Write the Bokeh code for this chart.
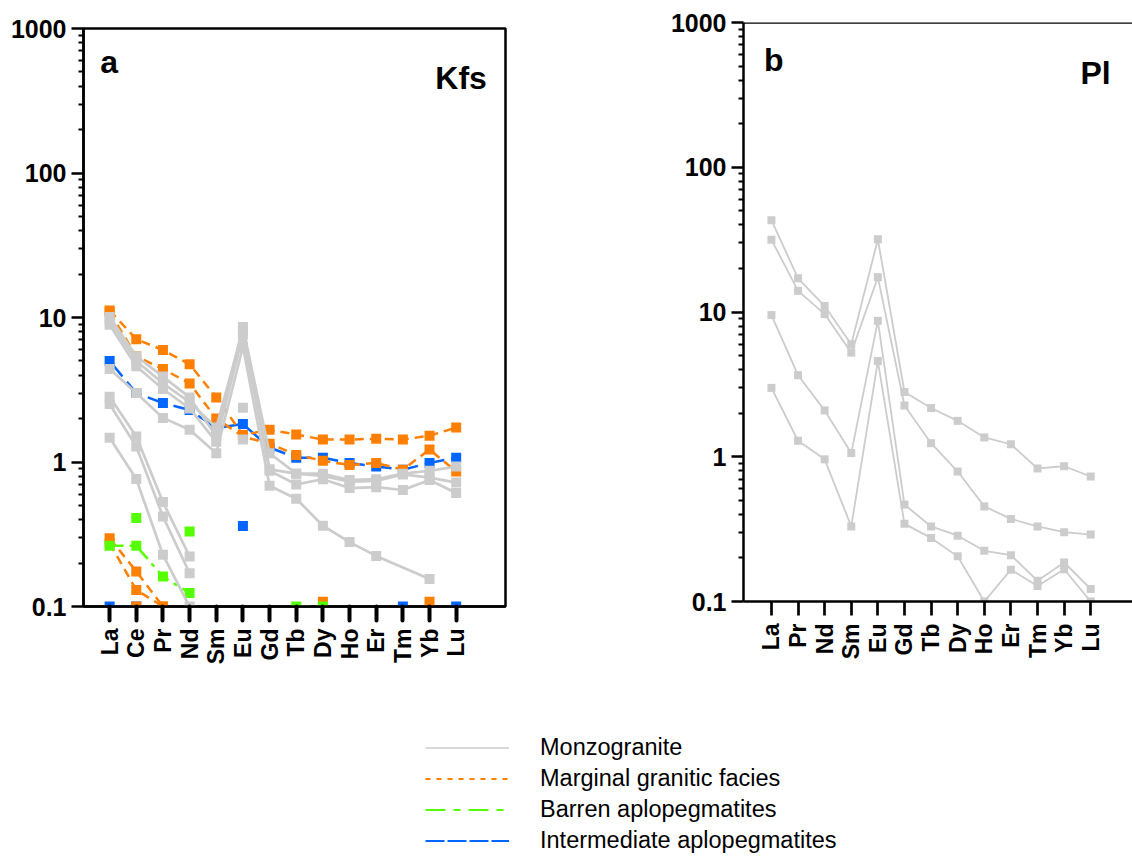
import math
from bokeh.plotting import figure
from bokeh.models import (Range1d, FixedTicker, PrintfTickFormatter, Label,
                          Span, Legend, LegendItem)
from bokeh.layouts import column, row
from bokeh.embed import file_html
from bokeh.resources import INLINE

nan = float("nan")

# ---------------- data ----------------
ree_kfs = ["La", "Ce", "Pr", "Nd", "Sm", "Eu", "Gd", "Tb", "Dy", "Ho", "Er", "Tm", "Yb", "Lu"]
ree_pl = ["La", "Pr", "Nd", "Sm", "Eu", "Gd", "Tb", "Dy", "Ho", "Er", "Tm", "Yb", "Lu"]

# (a) K-feldspar, chondrite-normalised
kfs_mzg_1 = [10.1, 5.4, 3.9, 2.8, 1.5, 8.6, 1.15, 0.83, 0.83, 0.75, 0.76, 0.83, 0.87, 0.93]
kfs_mzg_2 = [9.5, 5.0, 3.5, 2.6, 1.73, 8.2, 0.89, 0.83, 0.80, 0.73, 0.74, 0.82, 0.78, 0.72]
kfs_mzg_3 = [8.9, 4.6, 3.2, 2.35, 1.38, 7.6, 0.87, 0.70, 0.76, 0.66, 0.67, 0.64, 0.75, 0.61]
kfs_mzg_4 = [4.4, 3.0, 2.02, 1.67, 1.15, 6.3, 0.685, 0.557, 0.362, 0.279, 0.224, nan, 0.155, nan]
kfs_mzg_5 = [2.83, 1.5, 0.528, 0.222, nan, 2.37, nan, nan, nan, nan, nan, nan, nan, nan]
kfs_mzg_6 = [2.52, 1.28, 0.42, 0.17, nan, 1.43, nan, nan, nan, nan, nan, nan, nan, nan]
kfs_mzg_7 = [1.47, 0.762, 0.228, 0.1, nan, nan, nan, nan, nan, nan, nan, nan, nan, nan]

kfs_mgf_1 = [11.2, 7.07, 5.96, 4.74, 2.8, 1.54, 1.67, 1.55, 1.43, 1.43, 1.45, 1.43, 1.52, 1.73]
kfs_mgf_2 = [10.9, 5.4, 4.4, 3.5, 2.0, 1.5, 1.34, 1.12, 1.02, 0.953, 0.985, 0.885, 1.22, 0.86]
kfs_mgf_3 = [0.297, 0.175, 0.1, nan, nan, nan, nan, nan, nan, nan, nan, nan, nan, nan]
kfs_mgf_4 = [0.275, 0.13, 0.1, nan, nan, nan, nan, nan, nan, nan, nan, nan, nan, nan]
kfs_mgf_5 = [nan, 0.1, nan, nan, nan, nan, nan, nan, 0.108, nan, nan, nan, 0.108, nan]

kfs_bap_1 = [0.263, 0.263, 0.161, 0.124, nan, nan, nan, nan, nan, nan, nan, nan, nan, nan]
kfs_bap_2 = [nan, 0.41, nan, 0.33, nan, nan, nan, 0.1, 0.1, nan, nan, nan, nan, nan]

kfs_iap_1 = [5.0, 3.0, 2.56, 2.29, 1.72, 1.83, 1.26, 1.07, 1.07, 0.985, 0.93, 0.885, 0.985, 1.07]
kfs_iap_2 = [0.1, 0.1, nan, nan, nan, 0.36, nan, nan, nan, nan, nan, 0.1, nan, 0.1]

# (b) plagioclase, chondrite-normalised
pl_mzg_1 = [43.1, 17.1, 11.0, 5.98, 31.8, 2.8, 2.17, 1.77, 1.36, 1.22, 0.83, 0.86, 0.73]
pl_mzg_2 = [31.6, 14.0, 9.67, 5.24, 17.4, 2.26, 1.24, 0.79, 0.454, 0.372, 0.33, 0.301, 0.29]
pl_mzg_3 = [9.52, 3.66, 2.09, 1.06, 8.69, 0.467, 0.33, 0.285, 0.224, 0.209, 0.139, 0.186, 0.122]
pl_mzg_4 = [2.99, 1.29, 0.96, 0.33, 4.58, 0.344, 0.275, 0.205, 0.1, 0.166, 0.128, 0.167, 0.1]

y_ticks = [0.1, 1, 10, 100, 1000]
legend_labels = ["Monzogranite", "Marginal granitic facies", "Barren aplopegmatites",
                 "Intermediate aplopegmatites"]

# ---------------- styles ----------------
GREY = "#cccccc"
ORANGE = "#ff7f00"
GREEN = "#55ff00"
BLUE = "#0066ff"
FONT = "Liberation Sans"


def style_axes(p, cats, tick_w, cap):
    xa = p.xaxis[0]
    xa.ticker = FixedTicker(ticks=list(range(len(cats))))
    xa.major_label_overrides = {i: c for i, c in enumerate(cats)}
    xa.major_label_orientation = math.pi / 2
    xa.major_label_text_font = FONT
    xa.major_label_text_font_style = "bold"
    xa.major_label_text_font_size = "23px"
    xa.major_label_text_color = "black"
    xa.major_label_standoff = 8
    xa.axis_line_width = 2.5
    xa.axis_line_color = "black"
    xa.major_tick_line_width = tick_w
    xa.major_tick_line_cap = cap
    xa.major_tick_in = 0
    xa.major_tick_out = 14
    xa.minor_tick_line_color = None

    ya = p.yaxis[0]
    ya.ticker = FixedTicker(ticks=y_ticks,
                            minor_ticks=[m * d for d in [0.1, 1, 10, 100] for m in range(2, 10)])
    ya.formatter = PrintfTickFormatter(format="%.3g")
    ya.major_label_text_font = FONT
    ya.major_label_text_font_style = "bold"
    ya.major_label_text_font_size = "25px"
    ya.major_label_text_color = "black"
    ya.major_label_standoff = 5
    ya.axis_line_width = 2.5
    ya.major_tick_line_width = 2.5
    ya.major_tick_in = 0
    ya.major_tick_out = 12
    ya.minor_tick_line_width = 2
    ya.minor_tick_in = 0
    ya.minor_tick_out = 5

    p.xgrid.grid_line_color = None
    p.ygrid.grid_line_color = None


def draw(p, cats, series, color, lw, dash, msize, bridge=False):
    xs = list(range(len(cats)))
    for s in series:
        if bridge:
            lx = [x for x, v in zip(xs, s) if v == v]
            ly = [v for v in s if v == v]
        else:
            lx, ly = xs, s
        p.line(lx, ly, line_color=color, line_width=lw, line_dash=dash)
        p.scatter(xs, s, marker="square", size=msize, fill_color=color, line_color=None)


def label(p, x, y, text, align):
    p.add_layout(Label(x=x, y=y, text=text, text_font=FONT, text_font_style="bold",
                       text_font_size="32px", text_align=align, text_baseline="alphabetic",
                       text_color="black"))


# ---------------- panel a ----------------
p1 = figure(width=560, height=680, y_axis_type="log",
            x_range=Range1d(-0.98, 14.85), y_range=Range1d(0.1, 1000),
            output_backend="svg", toolbar_location=None,
            min_border_left=83, min_border_right=55, min_border_top=28, min_border_bottom=74)
p1.outline_line_color = "black"
p1.outline_line_width = 2.5
p1.outline_line_alpha = 1
style_axes(p1, ree_kfs, 4, "round")

draw(p1, ree_kfs, [kfs_iap_1, kfs_iap_2], BLUE, 2.5, "20 7", 10)
draw(p1, ree_kfs, [kfs_mgf_1, kfs_mgf_2, kfs_mgf_3, kfs_mgf_4, kfs_mgf_5], ORANGE, 2.5, "9 6", 10)
draw(p1, ree_kfs, [kfs_bap_1, kfs_bap_2], GREEN, 2.5, "14 6 4 6", 10)
draw(p1, ree_kfs, [kfs_mzg_1, kfs_mzg_2, kfs_mzg_3, kfs_mzg_5, kfs_mzg_6, kfs_mzg_7],
     GREY, 2.7, "solid", 10)
draw(p1, ree_kfs, [kfs_mzg_4], GREY, 2.7, "solid", 10, bridge=True)

label(p1, -0.35, 586, "a", "left")
label(p1, 14.15, 455, "Kfs", "right")

# ---------------- panel b ----------------
p2 = figure(width=572, height=680, y_axis_type="log",
            x_range=Range1d(-1.05, 13.57), y_range=Range1d(0.1, 1000),
            output_backend="svg", toolbar_location=None,
            min_border_left=183, min_border_right=0, min_border_top=22, min_border_bottom=79)
p2.outline_line_color = None
style_axes(p2, ree_pl, 2.7, "butt")
p2.add_layout(Span(location=1000, dimension="width", line_color="black", line_width=2.5))

draw(p2, ree_pl, [pl_mzg_1, pl_mzg_2, pl_mzg_3, pl_mzg_4], GREY, 1.8, "solid", 8)

label(p2, -0.28, 555, "b", "left")
label(p2, 12.75, 451, "Pl", "right")

# ---------------- legend ----------------
p3 = figure(width=1132, height=176, x_range=Range1d(0, 1), y_range=Range1d(0, 1),
            output_backend="svg", toolbar_location=None,
            x_axis_location=None, y_axis_location=None,
            min_border_left=0, min_border_right=0, min_border_top=0, min_border_bottom=0)
p3.outline_line_color = None
p3.xgrid.grid_line_color = None
p3.ygrid.grid_line_color = None

leg_styles = [(GREY, 1.5, "solid"), (ORANGE, 2.2, "5 6"), (GREEN, 2.2, "20 8 7 8"),
              (BLUE, 2.2, "19 3")]
items = []
for lab, (c, w, d) in zip(legend_labels, leg_styles):
    r = p3.line([10, 11], [10, 10], line_color=c, line_width=w, line_dash=d)
    items.append(LegendItem(label=lab, renderers=[r]))

legend = Legend(items=items, location=(425, 2), orientation="vertical",
                glyph_width=84, glyph_height=27, label_height=27, spacing=4,
                padding=0, margin=0, label_standoff=31,
                border_line_color=None, background_fill_alpha=0,
                label_text_font=FONT, label_text_font_size="23.5px", label_text_color="black")
p3.add_layout(legend)

layout = column(row(column(p1), column(p2)), p3)
open("out.html", "w").write(file_html(layout, INLINE))
